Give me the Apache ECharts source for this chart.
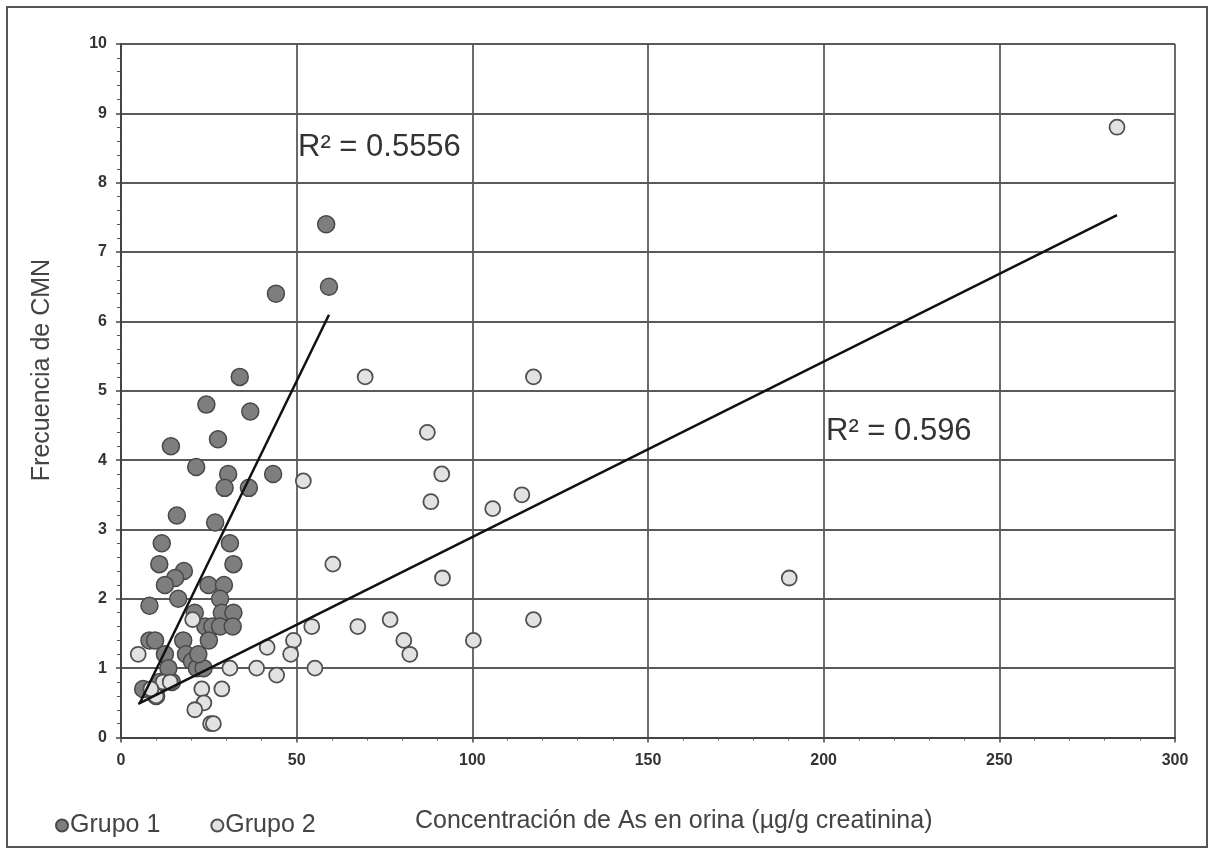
<!DOCTYPE html>
<html><head><meta charset="utf-8">
<script src="https://cdn.jsdelivr.net/npm/echarts@6/dist/echarts.min.js"></script>
<style>html,body{margin:0;padding:0;background:#fff}#c{width:1210px;height:850px}</style>
</head><body><div id="c"></div>
<script>
const seriesNames = ['Grupo 1', 'Grupo 2'];
const grupo1X = [58.4,59.2,44.1,33.8,24.3,36.8,14.2,27.6,21.4,30.5,43.3,29.5,36.4,15.9,26.8,11.6,31.0,10.9,32.0,17.9,15.4,12.5,24.9,29.3,8.1,16.3,28.2,21.0,28.7,32.0,24.0,26.0,28.2,31.8,25.0,8.1,9.7,17.7,12.5,18.5,20.2,21.6,23.5,6.3,9.2,11.0,14.5,10.0,22.0,13.5];
const grupo1Y = [7.4,6.5,6.4,5.2,4.8,4.7,4.2,4.3,3.9,3.8,3.8,3.6,3.6,3.2,3.1,2.8,2.8,2.5,2.5,2.4,2.3,2.2,2.2,2.2,1.9,2.0,2.0,1.8,1.8,1.8,1.6,1.6,1.6,1.6,1.4,1.4,1.4,1.4,1.2,1.2,1.1,1.0,1.0,0.7,0.7,0.8,0.8,0.6,1.2,1.0];
const grupo2X = [283.5,69.5,117.4,87.2,91.3,51.9,88.2,114.1,105.8,60.3,91.5,190.2,117.4,76.6,67.4,54.3,49.1,80.5,100.3,82.2,48.3,55.2,44.3,41.6,38.6,31.0,28.7,23.0,23.6,21.0,25.5,26.3,20.4,4.9,12.0,10.0,14.0,8.5];
const grupo2Y = [8.8,5.2,5.2,4.4,3.8,3.7,3.4,3.5,3.3,2.5,2.3,2.3,1.7,1.7,1.6,1.6,1.4,1.4,1.4,1.2,1.2,1.0,0.9,1.3,1.0,1.0,0.7,0.7,0.5,0.4,0.2,0.2,1.7,1.2,0.8,0.6,0.8,0.7];
const trendSlope = [0.104, 0.0253];
const trendIntercept = [-0.06, 0.36];
const trendXStart = [5.4, 4.9];
const trendXEnd = [59.2, 283.5];
const r2Labels = ['R\u00b2 = 0.5556', 'R\u00b2 = 0.596'];
const xAxisTitle = 'Concentración de As en orina (µg/g creatinina)';
const yAxisTitle = 'Frecuencia de CMN';

const zip = (a, b) => a.map((v, i) => [v, b[i]]);
const trend = i => [
  [trendXStart[i], trendSlope[i] * trendXStart[i] + trendIntercept[i]],
  [trendXEnd[i], trendSlope[i] * trendXEnd[i] + trendIntercept[i]]
];

const FONT = '"Liberation Sans", Arial, sans-serif';
const chart = echarts.init(document.getElementById('c'), null, {renderer: 'canvas'});
chart.setOption({
  animation: false,
  backgroundColor: '#fff',
  grid: {left: 121, right: 35, top: 44, bottom: 112.5},
  legend: {
    data: seriesNames,
    left: 50, top: 808,
    icon: 'circle', itemWidth: 12, itemHeight: 12, itemGap: 50,
    textStyle: {fontFamily: FONT, fontSize: 25, color: '#444', padding: [0, 0, 0, -3]}
  },
  xAxis: {
    type: 'value', min: 0, max: 300, interval: 50,
    axisLine: {show: true, lineStyle: {color: '#444', width: 2}},
    axisTick: {show: true, length: 5, lineStyle: {color: '#444', width: 1.5}},
    minorTick: {show: true, splitNumber: 5, length: 3, lineStyle: {color: '#555', width: 1}},
    splitLine: {show: true, lineStyle: {color: '#5a5a5a', width: 1.8}},
    axisLabel: {fontFamily: FONT, fontWeight: 'bold', fontSize: 16, color: '#333', margin: 15}
  },
  yAxis: {
    type: 'value', min: 0, max: 10, interval: 1,
    axisLine: {show: true, lineStyle: {color: '#444', width: 2}},
    axisTick: {show: true, length: 5, lineStyle: {color: '#444', width: 1.5}},
    minorTick: {show: true, splitNumber: 5, length: 4, lineStyle: {color: '#555', width: 1}},
    splitLine: {show: true, lineStyle: {color: '#5a5a5a', width: 1.8}},
    axisLabel: {fontFamily: FONT, fontWeight: 'bold', fontSize: 16, color: '#333', margin: 14}
  },
  series: [
    {
      name: seriesNames[0], type: 'scatter', symbol: 'circle', symbolSize: 17,
      data: zip(grupo1X, grupo1Y), z: 2,
      itemStyle: {color: '#7e7e7e', borderColor: '#484848', borderWidth: 1.5, opacity: 1}
    },
    {
      name: seriesNames[1], type: 'scatter', symbol: 'circle', symbolSize: 15,
      data: zip(grupo2X, grupo2Y), z: 3,
      itemStyle: {color: '#e2e2e2', borderColor: '#505050', borderWidth: 1.8, opacity: 1}
    },
    {
      name: 'trend1', type: 'line', data: trend(0), showSymbol: false, symbol: 'none', z: 5,
      lineStyle: {color: '#111', width: 2.5}, silent: true
    },
    {
      name: 'trend2', type: 'line', data: trend(1), showSymbol: false, symbol: 'none', z: 5,
      lineStyle: {color: '#111', width: 2.5}, silent: true
    }
  ],
  graphic: [
    {type: 'rect', shape: {x: 7, y: 7, width: 1200, height: 840},
     style: {fill: 'none', stroke: '#555', lineWidth: 2}, z: 100},
    {type: 'text', x: 298, y: 147,
     style: {text: r2Labels[0], fontFamily: FONT, fontSize: 31, fill: '#333', textAlign: 'left', textVerticalAlign: 'middle'}, z: 100},
    {type: 'text', x: 826, y: 431,
     style: {text: r2Labels[1], fontFamily: FONT, fontSize: 31, fill: '#333', textAlign: 'left', textVerticalAlign: 'middle'}, z: 100},
    {type: 'text', x: 415, y: 821,
     style: {text: xAxisTitle, fontFamily: FONT, fontSize: 25, fill: '#444', textAlign: 'left', textVerticalAlign: 'middle'}, z: 100},
    {type: 'text', x: 42, y: 370, rotation: Math.PI / 2,
     style: {text: yAxisTitle, fontFamily: FONT, fontSize: 25, fill: '#444', textAlign: 'center', textVerticalAlign: 'middle'}, z: 100}
  ]
});
</script>
</body></html>
